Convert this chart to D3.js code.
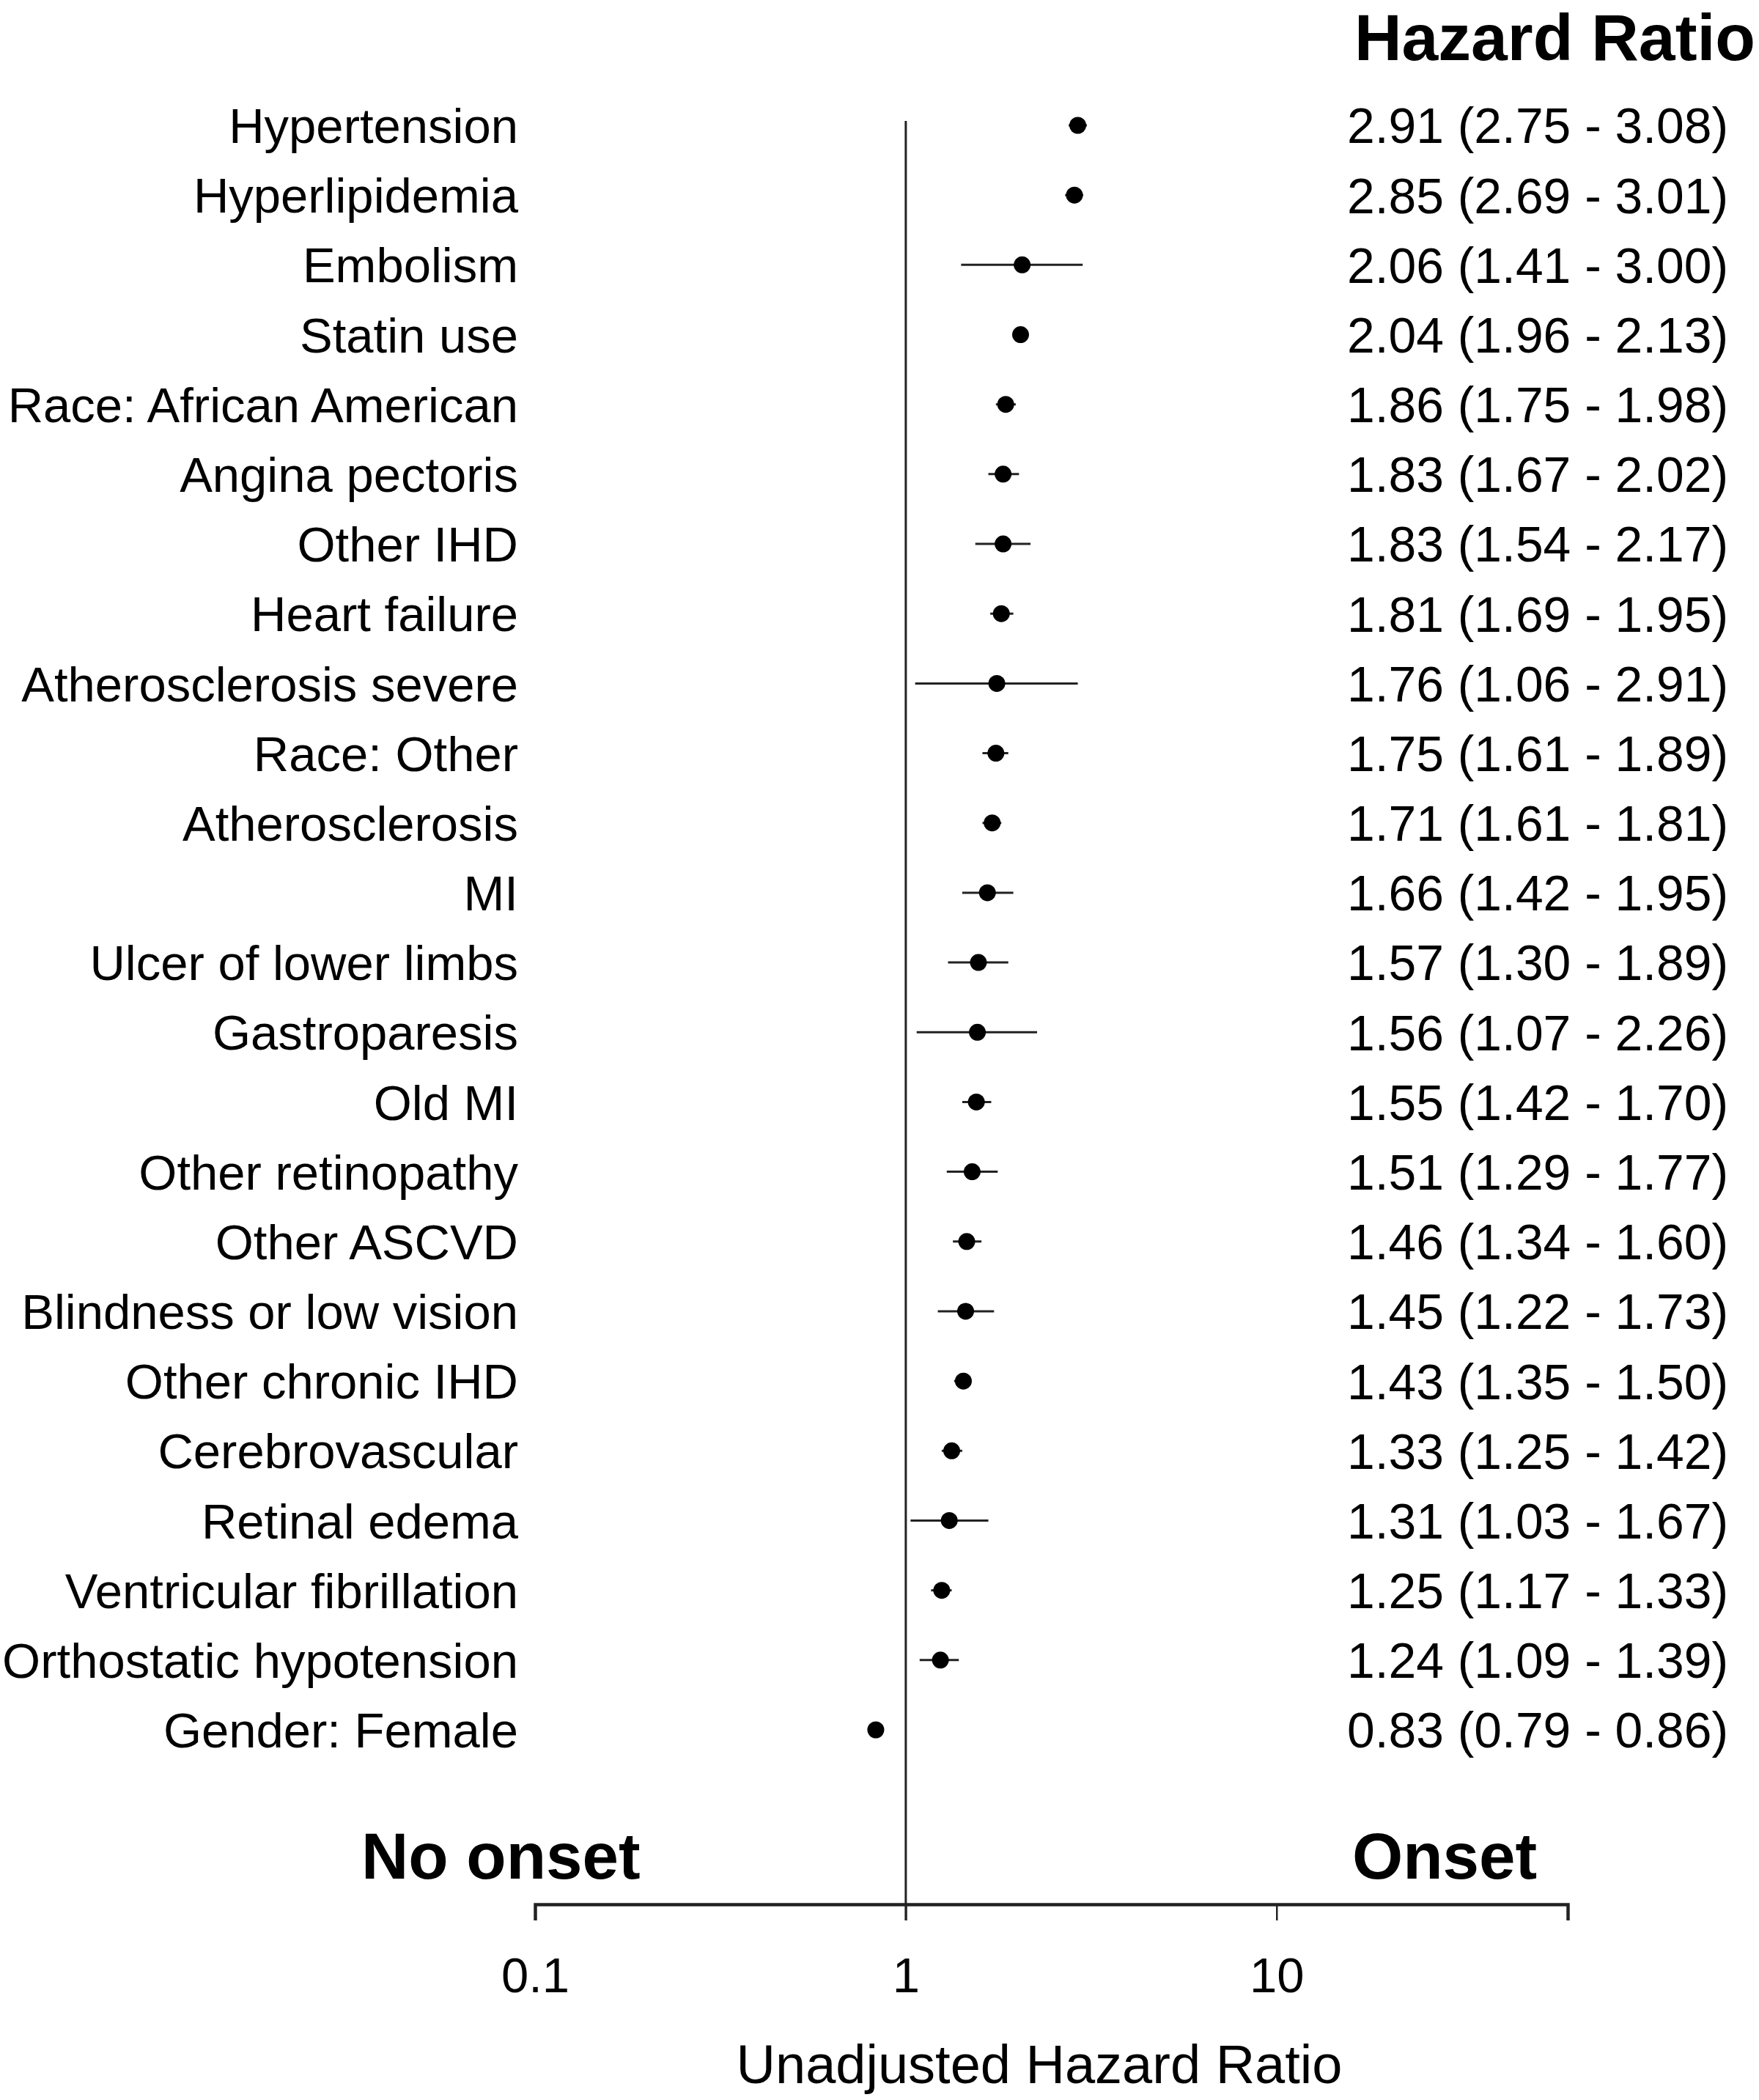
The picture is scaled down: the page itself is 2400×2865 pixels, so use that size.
<!DOCTYPE html>
<html>
<head>
<meta charset="utf-8">
<script src="https://cdn.jsdelivr.net/npm/d3@7"></script>
<style>
  html, body { margin: 0; padding: 0; background: #fff; }
  svg { display: block; font-family: "Liberation Sans", Arial, sans-serif; }
</style>
</head>
<body>
<svg id="chart" width="2400" height="2865"></svg>
<script>
const categories = ["Hypertension","Hyperlipidemia","Embolism","Statin use","Race: African American","Angina pectoris","Other IHD","Heart failure","Atherosclerosis severe","Race: Other","Atherosclerosis","MI","Ulcer of lower limbs","Gastroparesis","Old MI","Other retinopathy","Other ASCVD","Blindness or low vision","Other chronic IHD","Cerebrovascular","Retinal edema","Ventricular fibrillation","Orthostatic hypotension","Gender: Female"];
const hr    = [2.91,2.85,2.06,2.04,1.86,1.83,1.83,1.81,1.76,1.75,1.71,1.66,1.57,1.56,1.55,1.51,1.46,1.45,1.43,1.33,1.31,1.25,1.24,0.83];
const lower = [2.75,2.69,1.41,1.96,1.75,1.67,1.54,1.69,1.06,1.61,1.61,1.42,1.30,1.07,1.42,1.29,1.34,1.22,1.35,1.25,1.03,1.17,1.09,0.79];
const upper = [3.08,3.01,3.00,2.13,1.98,2.02,2.17,1.95,2.91,1.89,1.81,1.95,1.89,2.26,1.70,1.77,1.60,1.73,1.50,1.42,1.67,1.33,1.39,0.86];
const tickValues = [0.1, 1, 10];
const tickLabels = ["0.1", "1", "10"];
const xTitle = "Unadjusted Hazard Ratio";
const colTitle = "Hazard Ratio";
const leftNote = "No onset";
const rightNote = "Onset";

const rows = categories.map((c, i) => ({ name: c, hr: hr[i], lo: lower[i], hi: upper[i] }));

const svg = d3.select("#chart");
const x = d3.scaleLog().domain([0.1, 61]).range([730, 2139]);
const y = d3.scalePoint().domain(categories).range([171, 2360]);
const axisY = 2598;

// reference line at HR = 1
svg.append("line")
  .attr("x1", x(1)).attr("x2", x(1))
  .attr("y1", 165).attr("y2", 2620)
  .attr("stroke", "#222").attr("stroke-width", 3);

// axis
const axis = d3.axisBottom(x)
  .tickValues(tickValues)
  .tickFormat((d, i) => tickLabels[i])
  .tickSizeOuter(0)
  .tickSize(22)
  .tickPadding(50);
const gAxis = svg.append("g").attr("transform", `translate(0,${axisY})`).call(axis);
gAxis.select(".domain").attr("stroke", "#222").attr("stroke-width", 4.5);
gAxis.selectAll(".tick line").attr("stroke", "#222").attr("stroke-width", 2.5);
gAxis.selectAll(".tick text")
  .attr("fill", "#000")
  .style("font-family", "'Liberation Sans', Arial, sans-serif")
  .style("font-size", "67px");

// axis title
svg.append("text")
  .attr("x", 1418).attr("y", 2842)
  .attr("text-anchor", "middle")
  .style("font-size", "74px")
  .text(xTitle);

// direction notes
svg.append("text").attr("x", 493).attr("y", 2563)
  .style("font-size", "89px").style("font-weight", "bold").text(leftNote);
svg.append("text").attr("x", 1845).attr("y", 2563)
  .style("font-size", "89px").style("font-weight", "bold").text(rightNote);

// column title
svg.append("text").attr("x", 2395).attr("y", 82)
  .attr("text-anchor", "end")
  .style("font-size", "89.5px").style("font-weight", "bold").text(colTitle);

const g = svg.append("g");
const row = g.selectAll("g.row").data(rows).join("g").attr("class", "row");

row.append("text")
  .attr("x", 707).attr("y", d => y(d.name)).attr("dy", "0.36em")
  .attr("text-anchor", "end")
  .style("font-size", "67px")
  .text(d => d.name);

row.append("line")
  .attr("x1", d => x(d.lo)).attr("x2", d => x(d.hi))
  .attr("y1", d => y(d.name)).attr("y2", d => y(d.name))
  .attr("stroke", "#222").attr("stroke-width", 3);

row.append("circle")
  .attr("cx", d => x(d.hr)).attr("cy", d => y(d.name))
  .attr("r", 11.5).attr("fill", "#000");

row.append("text")
  .attr("x", 1838).attr("y", d => y(d.name)).attr("dy", "0.36em")
  .style("font-size", "67.8px")
  .text(d => `${d.hr.toFixed(2)} (${d.lo.toFixed(2)} - ${d.hi.toFixed(2)})`);
</script>
</body>
</html>
